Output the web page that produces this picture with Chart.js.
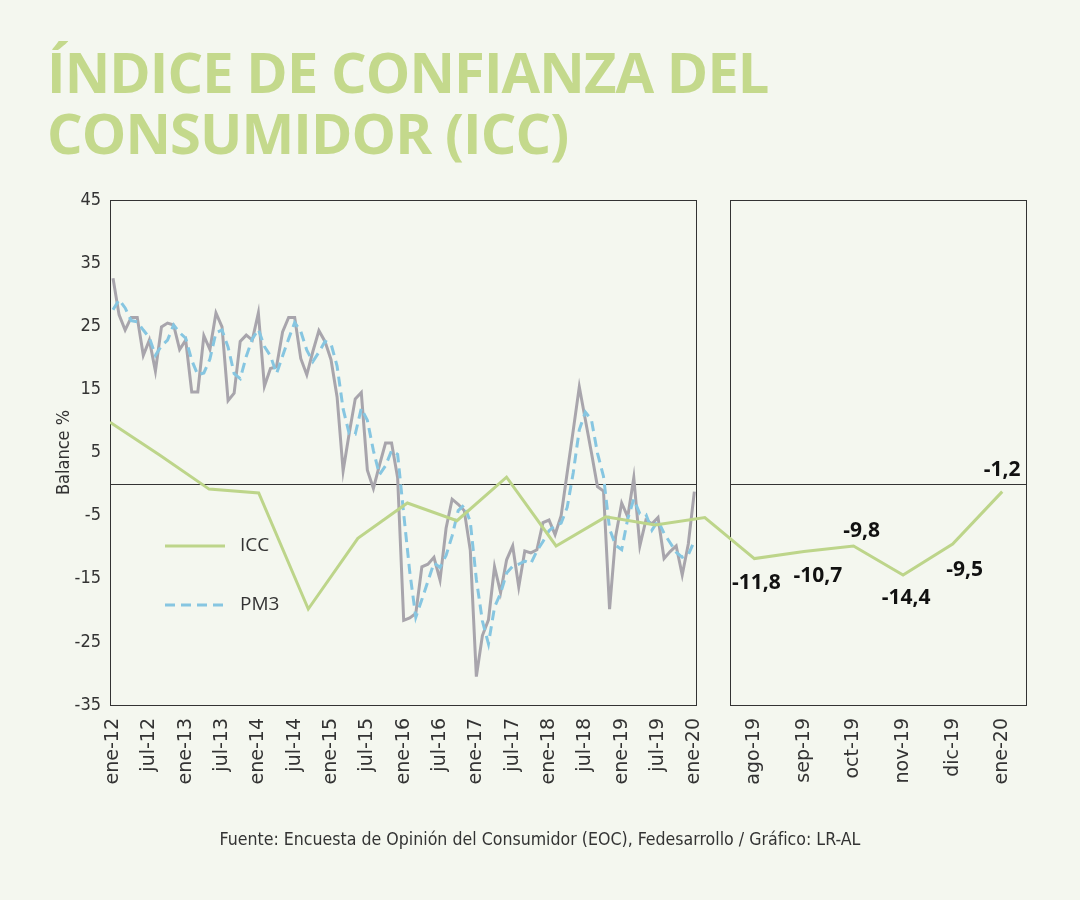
<!DOCTYPE html>
<html lang="es">
<head>
<meta charset="utf-8">
<title>Índice de Confianza del Consumidor (ICC)</title>
<script src="https://cdn.jsdelivr.net/npm/chart.js@4.4.1/dist/chart.umd.min.js"></script>
<style>
  html, body { margin: 0; padding: 0; background: #f4f7ef; }
  #wrap { position: relative; width: 1080px; height: 900px; overflow: hidden; }
  h1 {
    position: absolute; left: 47px; top: 41px; margin: 0;
    font: 700 56px/61px 'Open Sans', 'Noto Sans', sans-serif;
    color: #c4d98c; letter-spacing: -0.9px;
  }
  canvas { position: absolute; left: 0; top: 0; }
  .fuente {
    position: absolute; left: 0; width: 1080px; top: 829px; text-align: center;
    font: 17.6px 'Liberation Sans Narrow', 'DejaVu Sans Condensed', sans-serif; color: #333;
  }
</style>
</head>
<body>
<div id="wrap">
  <h1>ÍNDICE DE CONFIANZA DEL<br>CONSUMIDOR (ICC)</h1>
  <canvas id="iccChart" width="1080" height="900"></canvas>
  <div class="fuente">Fuente: Encuesta de Opinión del Consumidor (EOC), Fedesarrollo / Gráfico: LR-AL</div>
</div>
<script>
// Etiquetas del eje x (panel izquierdo cada 6 meses, panel derecho mensual)
const etiquetasSemestre = ['ene-12', 'jul-12', 'ene-13', 'jul-13', 'ene-14', 'jul-14', 'ene-15', 'jul-15',
  'ene-16', 'jul-16', 'ene-17', 'jul-17', 'ene-18', 'jul-18', 'ene-19', 'jul-19', 'ene-20'];
const etiquetasRecientes = ['ago-19', 'sep-19', 'oct-19', 'nov-19', 'dic-19', 'ene-20'];
const ticksBalance = [45, 35, 25, 15, 5, -5, -15, -25, -35];

// ICC mensual, ene-12 a ene-20 (97 meses)
const iccMensual = [
  32.6, 26.8, 24.4, 26.4, 26.4, 20.4, 22.8, 17.9, 24.9, 25.5, 25.2, 21.3,
  22.8, 14.6, 14.6, 23.5, 21.3, 27.1, 24.9, 13.2, 14.4, 22.6, 23.6, 22.8,
  27.1, 15.5, 18.3, 18.6, 24.1, 26.4, 26.4, 19.9, 17.3, 21.0, 24.3, 22.6,
  19.7, 13.8, 2.1, 8.0, 13.5, 14.5, 2.2, -0.7, 3.0, 6.5, 6.5, 1.0,
  -21.6, -21.2, -20.5, -13.1, -12.7, -11.6, -15.2, -7.0, -2.4, -3.2, -4.2, -10.5,
  -30.5, -24.0, -21.5, -13.1, -17.2, -12.0, -9.8, -16.3, -10.6, -10.9, -10.4, -6.1,
  -5.7, -8.0, -5.0, 1.8, 8.5, 15.4, 10.2, 5.0, -0.4, -1.1, -19.8, -8.3,
  -3.0, -5.2, 1.0, -9.8, -5.7, -6.3, -5.3, -11.8, -10.7, -9.8, -14.4, -9.5,
  -1.2
];

// PM3 (promedio móvil 3 meses)
const pm3 = [
  27.6, 29.2, 27.9, 25.9, 25.7, 24.4, 23.2, 20.4, 21.9, 22.8, 25.2, 24.0,
  23.1, 19.6, 17.3, 17.6, 19.8, 24.0, 24.4, 21.7, 17.5, 16.7, 20.2, 23.0,
  24.5, 21.8, 20.3, 17.5, 20.3, 23.0, 25.6, 24.2, 21.2, 19.4, 20.9, 22.6,
  22.2, 18.7, 11.9, 8.0, 7.9, 12.0, 10.1, 5.3, 1.5, 2.9, 5.3, 4.7,
  -4.7, -13.9, -21.1, -18.3, -15.4, -12.5, -13.2, -11.3, -8.2, -4.2, -3.3, -6.0,
  -15.1, -21.7, -25.3, -19.5, -17.3, -14.1, -13.0, -12.7, -12.2, -12.6, -10.6, -9.1,
  -7.4, -6.6, -6.2, -3.7, 1.8, 8.6, 11.4, 10.2, 4.9, 1.2, -7.1, -9.7,
  -10.4, -5.5, -2.4, -4.7, -4.8, -7.3, -5.8, -7.8, -9.3, -10.8, -11.6, -11.2,
  -9.0
];

// Línea verde "ICC" que cruza ambos paneles (19 puntos)
const iccTrazo = [9.8, 4.6, -0.8, -1.4, -19.8, -8.6, -3.0, -5.8, 1.1, -9.8, -5.2, -6.5, -5.3,
  -11.8, -10.7, -9.8, -14.4, -9.5, -1.2];

// Desplazamiento (px) de cada etiqueta de valor respecto a su punto
const etiquetaDx = [2, 14, 8, 3, 12, 0];
const etiquetaDy = [30, 30, -9, 29, 32, -16];

// Geometría de los paneles en unidades del eje x
const FIN_IZQ = 11.85;
const INI_DER = 12.5;
const FIN_DER = 18.5;
const anchoMes = FIN_IZQ / iccMensual.length;
const posMes = m => (m + 0.5) * anchoMes;
const primerReciente = iccTrazo.length - etiquetasRecientes.length;

const ticksX = [
  ...etiquetasSemestre.map((label, k) => ({ value: posMes(k * 6), label })),
  ...etiquetasRecientes.map((label, k) => ({ value: primerReciente + k, label }))
];

const fuenteCond = "'Liberation Sans Narrow', 'DejaVu Sans Condensed', sans-serif";

const panelesPlugin = {
  id: 'paneles',
  beforeDatasetsDraw(chart) {
    const { ctx, chartArea: { top, bottom }, scales: { x, y } } = chart;
    const y0 = Math.round(y.getPixelForValue(0)) + 0.5;
    ctx.save();
    ctx.strokeStyle = '#333';
    ctx.lineWidth = 1;
    [[0, FIN_IZQ], [INI_DER, FIN_DER]].forEach(([a, b]) => {
      const x0 = Math.round(x.getPixelForValue(a)) + 0.5;
      const x1 = Math.round(x.getPixelForValue(b)) - 0.5;
      ctx.strokeRect(x0, Math.round(top) + 0.5, x1 - x0, Math.round(bottom - top));
      ctx.beginPath();
      ctx.moveTo(x0, y0);
      ctx.lineTo(x1, y0);
      ctx.stroke();
    });
    ctx.restore();
  },
  afterDatasetsDraw(chart) {
    const { ctx, chartArea: { left, top }, scales: { x, y } } = chart;
    ctx.save();
    // etiquetas de valor del panel derecho
    ctx.font = "bold 21px 'Open Sans', 'Noto Sans', sans-serif";
    ctx.fillStyle = '#111';
    ctx.textAlign = 'center';
    ctx.textBaseline = 'alphabetic';
    etiquetasRecientes.forEach((_, k) => {
      const i = primerReciente + k;
      const v = iccTrazo[i];
      const texto = v.toFixed(1).replace('.', ',');
      ctx.fillText(texto, x.getPixelForValue(i) + etiquetaDx[k], y.getPixelForValue(v) + etiquetaDy[k]);
    });
    // leyenda
    const items = [
      { label: 'ICC', color: '#bdd58a', dash: [] },
      { label: 'PM3', color: '#86c6e1', dash: [10, 6] }
    ];
    ctx.font = "19px 'Open Sans', 'Noto Sans', sans-serif";
    ctx.textAlign = 'left';
    ctx.textBaseline = 'middle';
    items.forEach((it, k) => {
      const ly = top + 346 + k * 59;
      ctx.strokeStyle = it.color;
      ctx.lineWidth = 3;
      ctx.setLineDash(it.dash);
      ctx.beginPath();
      ctx.moveTo(left + 55, ly);
      ctx.lineTo(left + 115, ly);
      ctx.stroke();
      ctx.setLineDash([]);
      ctx.fillStyle = '#333';
      ctx.fillText(it.label, left + 130, ly);
    });
    ctx.restore();
  }
};

new Chart(document.getElementById('iccChart'), {
  type: 'line',
  data: {
    datasets: [
      {
        label: 'ICC',
        data: iccTrazo.map((v, i) => ({ x: i, y: v })),
        borderColor: '#bdd58a',
        borderWidth: 3
      },
      {
        label: 'PM3',
        data: pm3.map((v, m) => ({ x: posMes(m), y: v })),
        borderColor: '#86c6e1',
        borderWidth: 3,
        borderDash: [10, 6]
      },
      {
        label: 'ICC mensual',
        data: iccMensual.map((v, m) => ({ x: posMes(m), y: v })),
        borderColor: '#a8a5ac',
        borderWidth: 3
      }
    ]
  },
  options: {
    responsive: false,
    animation: false,
    events: [],
    elements: { point: { radius: 0 }, line: { tension: 0, borderJoinStyle: 'miter' } },
    layout: { padding: { left: 50, right: 53, top: 200, bottom: 95 } },
    plugins: { legend: { display: false }, tooltip: { enabled: false } },
    scales: {
      x: {
        type: 'linear',
        min: 0,
        max: FIN_DER,
        grid: { display: false, drawTicks: false },
        border: { display: false },
        afterBuildTicks: scale => { scale.ticks = ticksX.map(t => ({ value: t.value })); },
        afterFit: scale => { scale.height = 100; },
        ticks: {
          autoSkip: false,
          minRotation: 90,
          maxRotation: 90,
          padding: 13,
          color: '#333',
          font: { family: "'DejaVu Sans', sans-serif", size: 19 },
          callback: (value, index) => ticksX[index].label
        }
      },
      y: {
        min: -35,
        max: 45,
        grid: { display: false, drawTicks: false },
        border: { display: false },
        afterBuildTicks: scale => { scale.ticks = ticksBalance.map(v => ({ value: v })); },
        afterFit: scale => { scale.width = 60; },
        ticks: {
          padding: 9,
          color: '#333',
          font: { family: fuenteCond, size: 18 }
        },
        title: {
          display: true,
          text: 'Balance %',
          color: '#333',
          padding: { top: 4, bottom: 0 },
          font: { family: fuenteCond, size: 18 }
        }
      }
    }
  },
  plugins: [panelesPlugin]
});
</script>
</body>
</html>
